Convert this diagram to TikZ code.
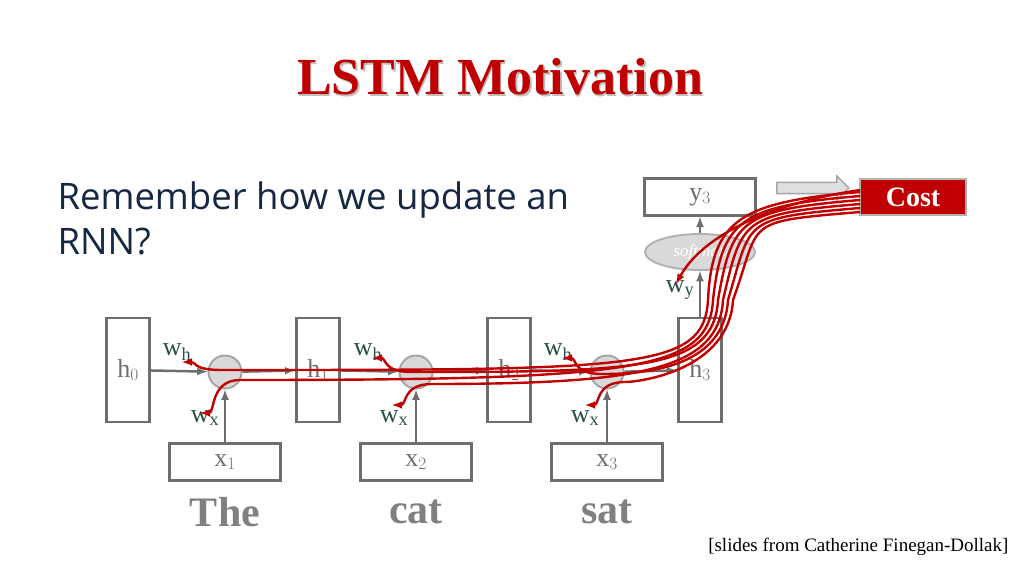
\documentclass[tikz,border=0pt]{standalone}
\usepackage{fontspec}
\setmainfont{Liberation Serif}
\newfontfamily\bodyfont{Open Sans}
\usetikzlibrary{shapes.geometric,shapes.arrows}
\definecolor{darkred}{RGB}{192,0,0}
\definecolor{boxgray}{RGB}{110,110,110}
\definecolor{navy}{RGB}{22,40,65}
\definecolor{wgreen}{RGB}{40,80,70}
\tikzset{
  hbox/.style={draw=boxgray, line width=2.5pt, minimum width=43pt, minimum height=104pt, text=boxgray, font=\fontsize{26}{26}\selectfont},
  xbox/.style={draw=boxgray, line width=2.5pt, minimum width=111pt, minimum height=37pt, text=boxgray, font=\fontsize{26}{26}\selectfont},
  sig/.style={circle, draw=gray!70, fill=gray!30, line width=2pt, minimum size=33pt, inner sep=0pt},
  flow/.style={draw=boxgray, line width=2.5pt, -latex},
  wlab/.style={text=wgreen, font=\fontsize{26}{26}\selectfont},
  word/.style={text=gray, font=\bfseries\fontsize{42}{42}\selectfont},
  grad/.style={draw=darkred, line width=2.4pt, -latex}
}
\begin{document}
\begin{tikzpicture}[x=1pt, y=-1pt]
    \useasboundingbox (0,0) rectangle (1024,576);
    % title
    \node[text=darkred, font=\bfseries\fontsize{52}{52}\selectfont] (title) at (500,78)
      {\rlap{\kern1.5pt\raisebox{-2pt}{\color{gray!50}LSTM Motivation}}LSTM Motivation};
    \node[anchor=west, text=navy, font=\bodyfont\fontsize{36.5}{36.5}\selectfont] (line1) at (54,200) {Remember how we update an};
    \node[anchor=west, text=navy, font=\bodyfont\fontsize{36.5}{36.5}\selectfont] (line2) at (54,242) {RNN?};
    % hidden states
    \node[hbox] (h0) at (128,370) {h$_0$};
    \node[hbox] (h1) at (318,370) {h$_1$};
    \node[hbox] (h2) at (509,370) {h$_2$};
    \node[hbox] (h3) at (700,370) {h$_3$};
    % gates
    \node[sig] (s1) at (225,372) {};
    \node[sig] (s2) at (416,372) {};
    \node[sig] (s3) at (607,372) {};
    % inputs
    \node[xbox] (x1) at (225,462) {x$_1$};
    \node[xbox] (x2) at (416,462) {x$_2$};
    \node[xbox] (x3) at (607,462) {x$_3$};
    \node[word] (w1) at (225,512) {The};
    \node[word] (w2) at (416,512) {cat};
    \node[word] (w3) at (607,512) {sat};
    % output
    \node[ellipse, draw=gray!60, fill=gray!30, line width=2pt, minimum width=110pt, minimum height=36pt, text=white, font=\itshape\fontsize{17}{17}\selectfont] (soft) at (700,252) {softmax};
    \node[xbox] (y3) at (700,197) {y$_3$};
    \node[fill=darkred, draw=gray!60, line width=2pt, minimum width=106pt, minimum height=36pt, text=white, font=\bfseries\fontsize{28}{28}\selectfont] (cost) at (913,197) {Cost};
    \node[single arrow, draw=gray!70, fill=gray!25, line width=1.5pt, minimum height=72pt, minimum width=24pt, single arrow head extend=3pt, inner sep=2pt] (blk) at (810,188) {};
    % weight labels
    \node[wlab] (wh1) at (177,352) {w$_{\mathrm{h}}$};
    \node[wlab] (wx1) at (205,418) {w$_{\mathrm{x}}$};
    \node[wlab] (wh2) at (368,352) {w$_{\mathrm{h}}$};
    \node[wlab] (wx2) at (394,418) {w$_{\mathrm{x}}$};
    \node[wlab] (wh3) at (558,352) {w$_{\mathrm{h}}$};
    \node[wlab] (wx3) at (585,418) {w$_{\mathrm{x}}$};
    \node[wlab] (wy) at (680,290) {w$_{\mathrm{y}}$};
    % forward connections
    \draw[flow] (h0) -- (s1);
    \draw[flow] (s1) -- (h1);
    \draw[flow] (h1) -- (s2);
    \draw[flow] (s2) -- (h2);
    \draw[flow] (h2) -- (s3);
    \draw[flow] (s3) -- (h3);
    \draw[flow] (x1) -- (s1);
    \draw[flow] (x2) -- (s2);
    \draw[flow] (x3) -- (s3);
    \draw[flow] (h3) -- (soft);
    \draw[flow] (soft) -- (y3);
    % gradients flowing back
    \coordinate (c0) at (860,190);
    \draw[grad] (c0) .. controls (760,205) and (700,240) .. (676,284);
    \foreach \tx/\ty/\yo/\dx/\ly in {182/362/192/0/370, 200/413/196/10/380, 372/358/200/20/372, 392/405/204/30/384, 562/358/208/40/374, 585/405/212/50/382}{
      \draw[grad] (860,\yo) .. controls (740,\yo+10) and (712+\dx,220) .. (708+\dx/2,300)
        .. controls (704+\dx/2,370) and (640,\ly) .. (\tx+40,\ly)
        .. controls (\tx+10,\ly) and (\tx+15,\ty) .. (\tx,\ty);
    }
    \node[anchor=east, font=\fontsize{19}{19}\selectfont] (src) at (1012,547) {[slides from Catherine Finegan-Dollak]};
\end{tikzpicture}
\end{document}
